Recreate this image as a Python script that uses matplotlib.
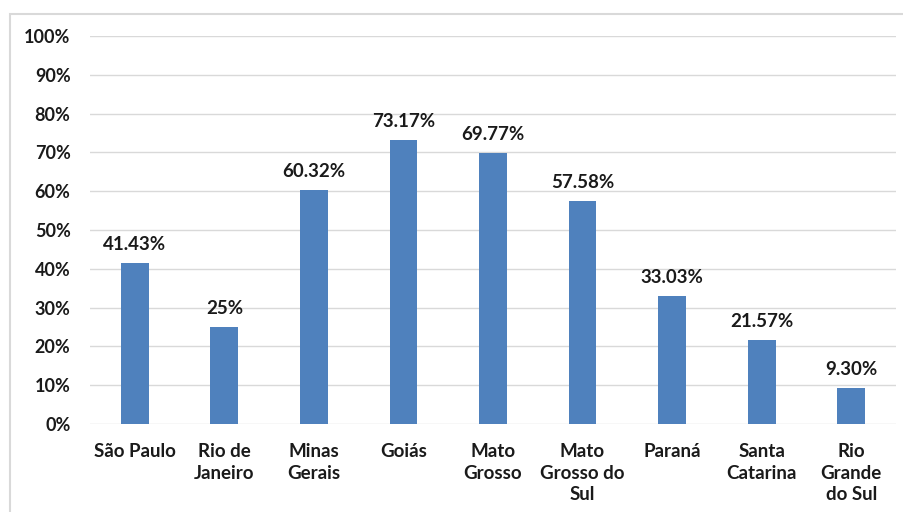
import matplotlib.pyplot as plt
from matplotlib.patches import Rectangle
from matplotlib.ticker import FuncFormatter

states = ["São Paulo", "Rio de\nJaneiro", "Minas\nGerais", "Goiás", "Mato\nGrosso",
          "Mato\nGrosso do\nSul", "Paraná", "Santa\nCatarina", "Rio\nGrande\ndo Sul"]
values = [41.43, 25.0, 60.32, 73.17, 69.77, 57.58, 33.03, 21.57, 9.30]
value_labels = ["41.43%", "25%", "60.32%", "73.17%", "69.77%", "57.58%", "33.03%",
                "21.57%", "9.30%"]
y_ticks = [0, 10, 20, 30, 40, 50, 60, 70, 80, 90, 100]

plt.rcParams["font.family"] = ["Lato", "DejaVu Sans"]
plt.rcParams["font.weight"] = "bold"

fig = plt.figure(figsize=(9.04, 5.12), dpi=100)
# light frame around the chart area (runs off right/bottom like the source)
fig.patches.append(Rectangle((10 / 904, -0.1), 1.0, (512 - 14) / 512 + 0.1,
                             transform=fig.transFigure, fill=False,
                             edgecolor="#d9d9d9", lw=1.5))

ax = fig.add_axes([90 / 904, 1 - 424 / 512, 806 / 904, 388 / 512])
x = range(len(states))
ax.bar(x, values, width=0.31, color="#4f81bd", zorder=3)
for xi, v, lbl in zip(x, values, value_labels):
    ax.text(xi, v + 2.6, lbl, ha="center", va="bottom", fontsize=13.5,
            fontweight="bold", color="#1a1a1a")

ax.set_xlim(-0.5, len(states) - 0.5)
ax.set_ylim(0, 100)
ax.set_yticks(y_ticks)
ax.yaxis.set_major_formatter(FuncFormatter(lambda v, _: f"{v:.0f}%"))
ax.set_xticks(list(x))
ax.set_xticklabels(states, fontsize=13.5, fontweight="bold", color="#1a1a1a",
                   linespacing=1.3, va="top")
for t in ax.get_yticklabels():
    t.set_fontsize(13)
    t.set_fontweight("bold")
    t.set_color("#1a1a1a")
ax.tick_params(length=0)
ax.tick_params(axis="y", pad=14)
ax.tick_params(axis="x", pad=14)
ax.grid(axis="y", color="#d9d9d9", lw=1, zorder=0)
for s in ax.spines.values():
    s.set_visible(False)

fig.savefig("out.png", dpi=100)
